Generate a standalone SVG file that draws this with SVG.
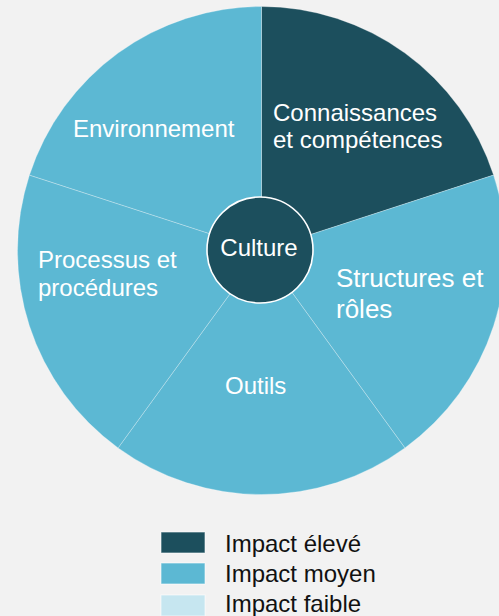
<svg xmlns="http://www.w3.org/2000/svg" width="499" height="616" viewBox="0 0 499 616">
<style>
.bg{fill:#f2f2f2}
.hi{fill:#1c4f5d}
.mid{fill:#5cb8d3}
.low{fill:#c6e6f0}
.slice{stroke:#ffffff;stroke-opacity:0.35;stroke-width:0.8}
.lbl{font-family:"Liberation Sans",Arial,sans-serif;font-size:24px;fill:#ffffff}
.leg{font-family:"Liberation Sans",Arial,sans-serif;font-size:24px;fill:#111111}
.sw{stroke:#ffffff;stroke-opacity:0.6;stroke-width:1}
</style>
<rect class="bg" x="0" y="0" width="499" height="616"/>
<g id="connectors"></g>
<g id="connaissances">
<path class="hi slice" d="M261.5 250.5 L261.5 6.5 A244 244 0 0 1 493.56 175.1 Z"/>
<text class="lbl" x="273" y="121">Connaissances</text>
<text class="lbl" x="273" y="148">et compétences</text>
</g>
<g id="structures">
<path class="mid slice" d="M261.5 250.5 L493.56 175.1 A244 244 0 0 1 404.92 447.9 Z"/>
<text class="lbl" x="336" y="287" style="font-size:26px">Structures et</text>
<text class="lbl" x="336" y="318" style="font-size:26px">rôles</text>
</g>
<g id="outils">
<path class="mid slice" d="M261.5 250.5 L404.92 447.9 A244 244 0 0 1 118.08 447.9 Z"/>
<text class="lbl" x="225" y="394">Outils</text>
</g>
<g id="processus">
<path class="mid slice" d="M261.5 250.5 L118.08 447.9 A244 244 0 0 1 29.44 175.1 Z"/>
<text class="lbl" x="38" y="268">Processus et</text>
<text class="lbl" x="38" y="296">procédures</text>
</g>
<g id="environnement">
<path class="mid slice" d="M261.5 250.5 L29.44 175.1 A244 244 0 0 1 261.5 6.5 Z"/>
<text class="lbl" x="73" y="137">Environnement</text>
</g>
<g id="culture">
<circle cx="260" cy="250" r="53" fill="#1c4f5d" stroke="#ffffff" stroke-width="1.6"/>
<text class="lbl" x="259" y="256" text-anchor="middle">Culture</text>
</g>
<g id="legend">
<rect class="hi sw" x="161" y="532" width="44" height="21"/>
<text class="leg" x="225" y="552">Impact élevé</text>
<rect class="mid sw" x="161" y="563" width="44" height="21"/>
<text class="leg" x="225" y="582">Impact moyen</text>
<rect class="low sw" x="161" y="595" width="44" height="21"/>
<text class="leg" x="225" y="612">Impact faible</text>
</g>
</svg>
